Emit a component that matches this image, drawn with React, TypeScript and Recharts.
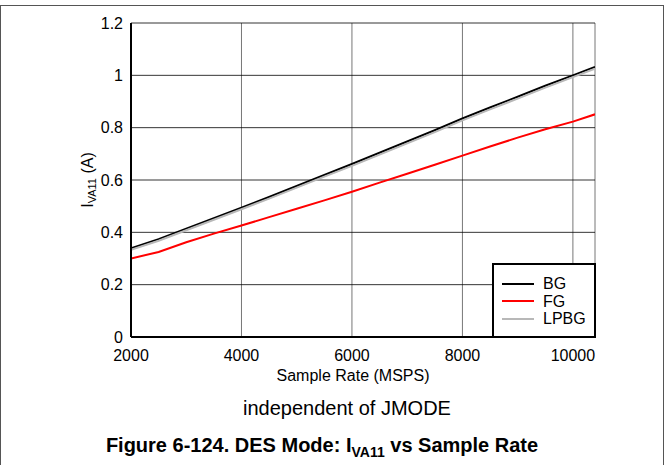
import React from 'react'
import {
  LineChart, Line, XAxis, YAxis, CartesianGrid
} from 'recharts'

// sample rate in MSPS
const sampleRates = [2000, 2500, 3000, 3500, 4000, 4500, 5000, 5500, 6000, 6500, 7000, 7500, 8000, 8500, 9000, 9500, 10000, 10400]
const bgCurrent = [0.339, 0.374, 0.414, 0.454, 0.494, 0.535, 0.577, 0.619, 0.661, 0.704, 0.747, 0.79, 0.835, 0.877, 0.918, 0.96, 1.0, 1.032]
const fgCurrent = [0.3, 0.325, 0.362, 0.395, 0.426, 0.458, 0.49, 0.522, 0.555, 0.59, 0.624, 0.658, 0.693, 0.728, 0.762, 0.794, 0.823, 0.851]
const lpbgCurrent = [0.333, 0.368, 0.408, 0.448, 0.488, 0.529, 0.571, 0.613, 0.654, 0.697, 0.74, 0.783, 0.828, 0.87, 0.911, 0.953, 0.993, 1.025]

const xTicks = [2000, 4000, 6000, 8000, 10000]
const yTicks = [0, 0.2, 0.4, 0.6, 0.8, 1, 1.2]

const series = [
  { key: 'BG', color: '#000000' },
  { key: 'FG', color: '#ff0000' },
  { key: 'LPBG', color: '#b8b8b8' },
]

const FONT = '"Liberation Sans", Arial, Helvetica, sans-serif'

const tableData = sampleRates.map((x, i) => ({
  rate: x,
  BG: bgCurrent[i],
  FG: fgCurrent[i],
  LPBG: lpbgCurrent[i],
}))

const fmtY = (v: number) => (v === 0 ? '0' : v === 1 ? '1' : String(v))

// rotated axis title with subscript
const YLabel = () => {
  const cx = 93
  const cy = 180
  return (
    <text
      x={cx}
      y={cy}
      transform={`rotate(-90, ${cx}, ${cy})`}
      textAnchor="middle"
      fontFamily={FONT}
      fontSize={16}
      fill="#000"
    >
      I<tspan fontSize={11} dy={3}>VA11</tspan>
      <tspan dy={-3}> (A)</tspan>
    </text>
  )
}

const LegendBox = () => (
  <div style={{
    position: 'absolute',
    left: 492,
    top: 263,
    width: 104,
    height: 75,
    background: '#fff',
    border: '2px solid #000',
    boxSizing: 'border-box',
    padding: '10px 0 0 8px',
    fontFamily: FONT,
    fontSize: 16,
    lineHeight: '17.5px',
  }}>
    {series.map(s => (
      <div key={s.key} style={{ display: 'flex', alignItems: 'center' }}>
        <span style={{ display: 'inline-block', width: 32, height: 2, background: s.color, marginRight: 9 }} />
        <span>{s.key}</span>
      </div>
    ))}
  </div>
)

export default function App() {
  return (
    <div style={{ position: 'absolute', left: 0, top: 0, width: 664, height: 465, background: '#fff', overflow: 'hidden' }}>
      <div style={{ position: 'absolute', left: 0, top: 5, width: 662, height: 470, border: '1px solid #555' }} />
      <LineChart
        width={664}
        height={465}
        data={tableData}
        margin={{ top: 23, right: 69, bottom: 98, left: 91 }}
        style={{ position: 'absolute', left: 0, top: 0 }}
      >
        <CartesianGrid horizontal={false} stroke="#777" strokeWidth={1} />
        <CartesianGrid vertical={false} stroke="#000" strokeWidth={0.8} />
        <XAxis
          dataKey="rate"
          type="number"
          domain={[2000, 10400]}
          ticks={xTicks}
          allowDataOverflow
          tickLine={false}
          axisLine={{ stroke: '#000', strokeWidth: 2 }}
          tick={{ fill: '#000', fontSize: 16, fontFamily: FONT }}
          tickMargin={7}
          height={30}
        />
        <XAxis xAxisId="top" orientation="top" dataKey="rate" type="number" domain={[2000, 10400]}
          tick={false} tickLine={false} axisLine={{ stroke: '#000', strokeWidth: 2 }} height={0} />
        <YAxis
          domain={[0, 1.2]}
          ticks={yTicks}
          tickFormatter={fmtY}
          tickLine={false}
          axisLine={{ stroke: '#000', strokeWidth: 2 }}
          tick={{ fill: '#000', fontSize: 16, fontFamily: FONT }}
          tickMargin={2}
          width={40}
        />
        <YAxis yAxisId="right" orientation="right" domain={[0, 1.2]}
          tick={false} tickLine={false} axisLine={{ stroke: '#000', strokeWidth: 2 }} width={0} />
        {series.map(s => (
          <Line
            key={s.key}
            dataKey={s.key}
            stroke={s.color}
            strokeWidth={2}
            dot={false}
            type="linear"
            isAnimationActive={false}
          />
        ))}
        <YLabel />
      </LineChart>
      <LegendBox />
      <div style={{ position: 'absolute', left: 121, width: 464, top: 367, textAlign: 'center', fontFamily: FONT, fontSize: 16 }}>
        Sample Rate (MSPS)
      </div>
      <div style={{ position: 'absolute', left: 115, width: 464, top: 397, textAlign: 'center', fontFamily: FONT, fontSize: 20 }}>
        independent of JMODE
      </div>
      <div style={{ position: 'absolute', left: -10, width: 664, top: 434, textAlign: 'center', fontFamily: FONT, fontSize: 20, fontWeight: 'bold' }}>
        Figure 6-124. DES Mode: I<sub style={{ fontSize: 14, verticalAlign: '-5px' }}>VA11</sub> vs Sample Rate
      </div>
    </div>
  )
}
